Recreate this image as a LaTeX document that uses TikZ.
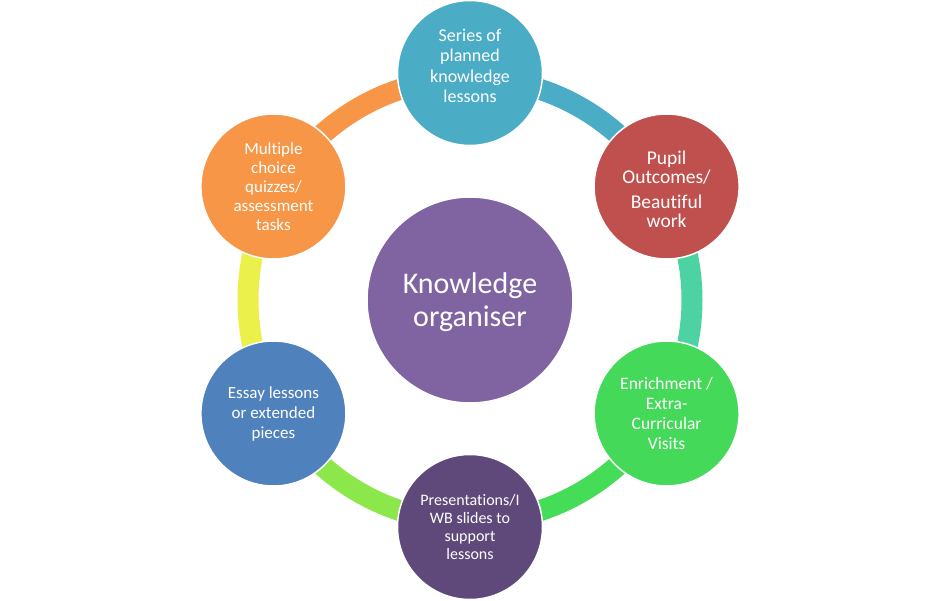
\documentclass[tikz,border=0pt]{standalone}
\usepackage{fontspec}
\setmainfont[Ligatures=NoCommon]{Carlito}
\begin{document}
\begin{tikzpicture}[x=1pt,y=1pt,
  bubble/.style={circle, minimum size=145pt, inner sep=0pt, draw=white, line width=1.5pt},
  hub/.style={circle, minimum size=206pt, inner sep=0pt, draw=white, line width=1.5pt},
  txt/.style={text=white, align=center, inner sep=0pt},
  ring/.style={line width=21pt}]
\definecolor{cTeal}{HTML}{4BACC6}
\definecolor{cRed}{HTML}{C0504D}
\definecolor{cGreen}{HTML}{45D95A}
\definecolor{cDark}{HTML}{5F497A}
\definecolor{cBlue}{HTML}{4F81BD}
\definecolor{cOrange}{HTML}{F79646}
\definecolor{cHub}{HTML}{8064A2}
\definecolor{aMint}{HTML}{4DD3A3}
\definecolor{aGreen}{HTML}{45DC58}
\definecolor{aLime}{HTML}{8CE84A}
\definecolor{aYellow}{HTML}{ECF04A}
\useasboundingbox (0,0) rectangle (940,600);
\fill[white] (0,0) rectangle (940,600);
\coordinate (o) at (470,300);
% ring arcs
\draw[ring, cTeal]   ([shift={(90:222)}]o)  arc[start angle=90,  end angle=30,   radius=222];
\draw[ring, aMint]   ([shift={(30:222)}]o)  arc[start angle=30,  end angle=-30,  radius=222];
\draw[ring, aGreen]  ([shift={(-30:222)}]o) arc[start angle=-30, end angle=-90,  radius=222];
\draw[ring, aLime]   ([shift={(-90:222)}]o) arc[start angle=-90, end angle=-150, radius=222];
\draw[ring, aYellow] ([shift={(210:222)}]o) arc[start angle=210, end angle=150,  radius=222];
\draw[ring, cOrange] ([shift={(150:222)}]o) arc[start angle=150, end angle=90,   radius=222];
% circles
\node[hub, fill=cHub] (c) at (o) {};
\node[bubble, fill=cTeal] (t) at ([shift={(90:227)}]o) {};
\node[bubble, fill=cRed] (tr) at ([shift={(30:227)}]o) {};
\node[bubble, fill=cGreen] (br) at ([shift={(-30:227)}]o) {};
\node[bubble, fill=cDark] (b) at ([shift={(-90:227)}]o) {};
\node[bubble, fill=cBlue] (bl) at ([shift={(210:227)}]o) {};
\node[bubble, fill=cOrange] (tl) at ([shift={(150:227)}]o) {};
% texts
\node[txt, font=\fontsize{30}{33}\selectfont] (ct) at ([yshift=-2]c.center) {Knowledge\\organiser};
\node[txt, font=\fontsize{18}{20.5}\selectfont] (tt) at ([yshift=7]t.center) {Series of\\planned\\knowledge\\lessons};
\node[txt, font=\fontsize{19.5}{19.5}\selectfont] (trt) at ([yshift=-3]tr.center) {Pupil\\Outcomes/\\[5pt]Beautiful\\work};
\node[txt, font=\fontsize{17.5}{20}\selectfont] (brt) at (br.center) {Enrichment /\\Extra-\\Curricular\\Visits};
\node[txt, font=\fontsize{16}{18}\selectfont] (bt) at ([yshift=0]b.center) {Presentations/I\\WB slides to\\support\\lessons};
\node[txt, font=\fontsize{17}{20}\selectfont] (blt) at (bl.center) {Essay lessons\\or extended\\pieces};
\node[txt, font=\fontsize{17}{19}\selectfont] (tlt) at (tl.center) {Multiple\\choice\\quizzes/\\assessment\\tasks};
\end{tikzpicture}
\end{document}
